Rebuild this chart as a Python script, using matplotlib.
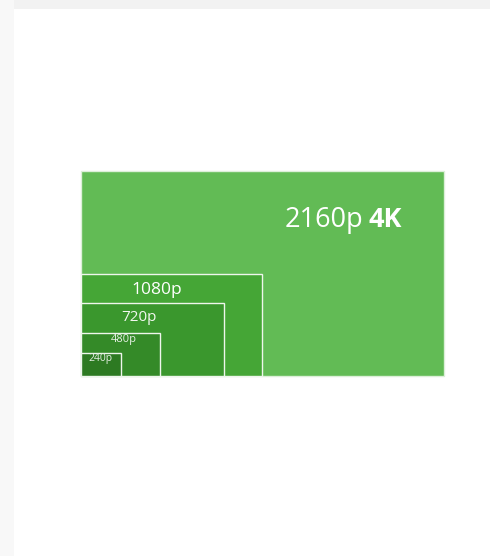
import matplotlib
matplotlib.use("Agg")
import matplotlib.pyplot as plt
from matplotlib.patches import Rectangle

# ---- data (resolution boxes, in "pixel" units of a 3840x2160 frame) ----
labels = ["2160p", "1080p", "720p", "480p", "240p"]
box_w = [3840, 1918, 1515, 838, 420]
box_h = [2160, 1072, 773, 456, 239]
colors = ["#62bb55", "#45a636", "#3a972d", "#348a28", "#2d7a22"]
highlight = "4K"

# ---- figure ----
W, H = 490, 556
fig = plt.figure(figsize=(W / 100, H / 100), dpi=100, facecolor="white")

# page background strips (card shadow look)
fig.add_artist(Rectangle((0, 1 - 9 / H), 1, 9 / H, transform=fig.transFigure,
                         facecolor="#f2f2f2", edgecolor="none", zorder=0))
fig.add_artist(Rectangle((0, 0), 14 / W, 1, transform=fig.transFigure,
                         facecolor="#f8f8f8", edgecolor="none", zorder=0))

# axes placed so the full frame spans pixels x 81..444, y 171..376
left_px, right_px, top_px, bot_px = 81, 444, 171, 376
ax = fig.add_axes([left_px / W, 1 - bot_px / H,
                   (right_px - left_px) / W, (bot_px - top_px) / H])
ax.set_xlim(0, box_w[0])
ax.set_ylim(0, box_h[0])
ax.axis("off")

edge_cols = ["#dcefd8"] + ["#eef6ec"] * (len(labels) - 1)
for i, (w, h, c) in enumerate(zip(box_w, box_h, colors)):
    ax.add_patch(Rectangle((0, 0), w, h, facecolor=c, edgecolor=edge_cols[i],
                           linewidth=1.0, zorder=1 + i, clip_on=False))

font = ["Open Sans", "DejaVu Sans"]
# label placements (x center, baseline y) in data units, and font sizes
lab_x = [2159, 796, 614, 455, 201]
lab_y = [1575, 864, 583, 358, 158]
lab_fs = [19.5, 12.5, 11, 8, 7.5]
lab_col = ["white", "white", "#f2f8f0", "#e4efe2", "#e4efe2"]

for i, lab in enumerate(labels):
    if i == 0:
        ax.text(lab_x[i], lab_y[i], lab, ha="left", va="baseline",
                fontsize=lab_fs[i], color=lab_col[i], family=font, zorder=10)
        ax.text(3046, lab_y[i], highlight, ha="left", va="baseline",
                fontsize=lab_fs[i], color=lab_col[i], family=font,
                fontweight="bold", zorder=10)
    else:
        ax.text(lab_x[i], lab_y[i], lab, ha="center", va="baseline",
                fontsize=lab_fs[i], color=lab_col[i], family=font, zorder=10)

fig.savefig("out.png", dpi=100, facecolor=fig.get_facecolor())
